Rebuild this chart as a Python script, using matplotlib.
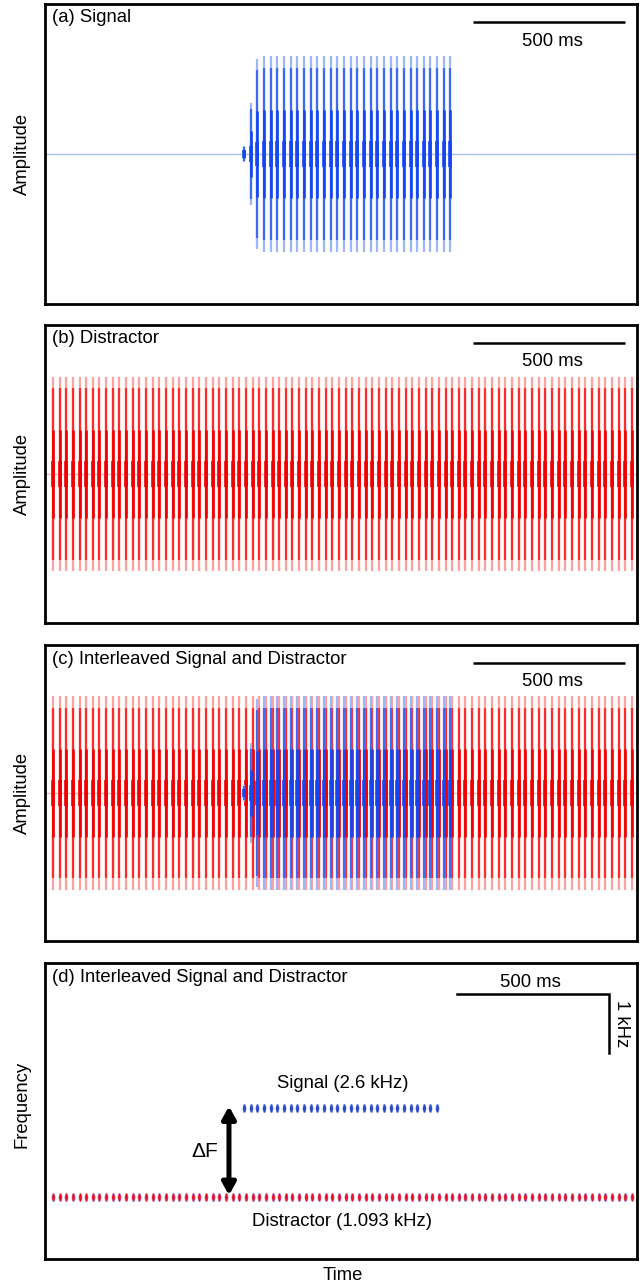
import numpy as np
import matplotlib
matplotlib.use("Agg")
import matplotlib.pyplot as plt

plt.rcParams['font.family'] = ['Liberation Sans', 'DejaVu Sans']

# ---------------- data (times in ms, frequency in kHz) ----------------
distractor_times = [26.0, 47.9, 69.8, 91.8, 113.7, 135.6, 157.5, 179.4, 201.4, 223.3,
                    245.2, 267.1, 289.0, 311.0, 332.9, 354.8, 376.7, 398.6, 420.6, 442.5,
                    464.4, 486.3, 508.2, 530.2, 552.1, 574.0, 595.9, 617.8, 639.8, 661.7,
                    683.6, 705.5, 727.4, 749.4, 771.3, 793.2, 815.1, 837.0, 859.0, 880.9,
                    902.8, 924.7, 946.6, 968.6, 990.5, 1012.4, 1034.3, 1056.2, 1078.2, 1100.1,
                    1122.0, 1143.9, 1165.8, 1187.8, 1209.7, 1231.6, 1253.5, 1275.4, 1297.4, 1319.3,
                    1341.2, 1363.1, 1385.0, 1407.0, 1428.9, 1450.8, 1472.7, 1494.6, 1516.6, 1538.5,
                    1560.4, 1582.3, 1604.2, 1626.2, 1648.1, 1670.0, 1691.9, 1713.8, 1735.8, 1757.7,
                    1779.6, 1801.5, 1823.4, 1845.4, 1867.3, 1889.2, 1911.1, 1933.0]
distractor_amps = [1.0] * len(distractor_times)

signal_times = [656.0, 677.9, 699.8, 721.8, 743.7, 765.6, 787.5, 809.4, 831.4, 853.3,
                875.2, 897.1, 919.0, 941.0, 962.9, 984.8, 1006.7, 1028.6, 1050.6, 1072.5,
                1094.4, 1116.3, 1138.2, 1160.2, 1182.1, 1204.0, 1225.9, 1247.8, 1269.8, 1291.7,
                1313.6, 1335.5]
signal_amps = [0.08, 0.52, 0.97] + [1.0] * 29

signal_dot_times = signal_times[:30]
distractor_freq_khz = 1.093
signal_freq_khz = 2.6

panel_titles = ["(a) Signal", "(b) Distractor",
                "(c) Interleaved Signal and Distractor",
                "(d) Interleaved Signal and Distractor"]
scale_time_ms = 500
scale_freq_khz = 1.0

# ---------------- styling ----------------
BLUE_SHADES = ['#9db6f9', '#3a6af6', '#1446f2']
RED_SHADES = ['#ffa0a0', '#ff2a2a', '#f00000']
BLUE_BASE = '#a9bff8'
RED_BASE = '#ffb8b8'
FS = 13.3

W, H = 642, 1286
fig = plt.figure(figsize=(W / 100, H / 100), dpi=100)

left = 45 / W
width = 592 / W
panels_px = [(4, 304), (325, 623), (645, 941), (963, 1259)]
axes = []
for top, bot in panels_px:
    ax = fig.add_axes([left, (H - bot) / H, width, (bot - top) / H])
    ax.set_xlim(0, 1950)
    ax.set_xticks([])
    ax.set_yticks([])
    for s in ax.spines.values():
        s.set_linewidth(2.0)
        s.set_color('black')
    axes.append(ax)


def draw_pulses(ax, times, amps, shades, z=2):
    t = np.asarray(times)
    a = np.asarray(amps)
    ax.vlines(t, -a, a, color=shades[0], lw=1.6, zorder=z)
    ax.vlines(t, -0.88 * a, 0.88 * a, color=shades[1], lw=1.6, zorder=z)
    ax.vlines(t, -0.45 * a, 0.45 * a, color=shades[2], lw=1.9, zorder=z)
    ax.vlines(t, -0.1 * a - 0.03, 0.1 * a + 0.03, color=shades[2], lw=2.6, zorder=z)


for ax in axes[:3]:
    ax.set_ylim(-1.53, 1.53)

axes[0].axhline(0, color=BLUE_BASE, lw=1.0, zorder=1)
draw_pulses(axes[0], signal_times, signal_amps, BLUE_SHADES)

axes[1].axhline(0, color=RED_BASE, lw=1.0, zorder=1)
draw_pulses(axes[1], distractor_times, distractor_amps, RED_SHADES)

axes[2].axhline(0, color=RED_BASE, lw=1.0, zorder=1)
draw_pulses(axes[2], distractor_times, distractor_amps, RED_SHADES, z=2)
draw_pulses(axes[2], signal_times, signal_amps, BLUE_SHADES, z=3)

for i, ax in enumerate(axes):
    ph = panels_px[i][1] - panels_px[i][0]
    ax.text(0.012, 1 - 14 / ph, panel_titles[i], transform=ax.transAxes,
            fontsize=FS, va='center', ha='left', zorder=5)

for i, ax in enumerate(axes[:3]):
    ph = panels_px[i][1] - panels_px[i][0]
    x0 = 1410
    ax.plot([x0, x0 + scale_time_ms], [1 - 18 / ph] * 2, transform=ax.get_xaxis_transform(),
            color='black', lw=1.8, solid_capstyle='butt', zorder=5)
    ax.text(x0 + scale_time_ms / 2 + 12, 1 - 37 / ph, f"{scale_time_ms} ms",
            transform=ax.get_xaxis_transform(), fontsize=FS, ha='center', va='center', zorder=5)

# frequency panel
axd = axes[3]
axd.set_ylim(0.042, 5.059)

ell = np.linspace(0, 2 * np.pi, 40)
ell_marker = np.column_stack([0.38 * np.cos(ell), np.sin(ell)])

axd.plot(distractor_times, [distractor_freq_khz] * len(distractor_times), ls='none',
         marker=ell_marker, ms=6.0, mfc='#f01020', mec='#9a80e0', mew=0.3, zorder=3)
axd.plot(signal_dot_times, [signal_freq_khz] * len(signal_dot_times), ls='none',
         marker=ell_marker, ms=6.0, mfc='#2a48c8', mec='#6a80e0', mew=0.3, zorder=3)

axd.text(982, 3.02, f"Signal ({signal_freq_khz} kHz)", fontsize=FS, ha='center', va='center')
axd.text(978, 0.67, f"Distractor ({distractor_freq_khz} kHz)", fontsize=FS, ha='center', va='center')

axd.annotate('', xy=(606, signal_freq_khz + 0.03), xytext=(606, distractor_freq_khz + 0.03),
             arrowprops=dict(arrowstyle='<|-|>,head_length=0.36,head_width=0.2',
                             mutation_scale=20, lw=3.6, color='black',
                             shrinkA=0, shrinkB=0), zorder=4)
axd.text(527, 1.86, "ΔF", fontsize=15, ha='center', va='center')

bar_x1 = 1858
bar_y = 4.534
axd.plot([bar_x1 - scale_time_ms, bar_x1, bar_x1], [bar_y, bar_y, bar_y - scale_freq_khz],
         color='black', lw=1.8, solid_joinstyle='miter', zorder=5)
axd.text(bar_x1 - scale_time_ms / 2 - 10, 4.73, f"{scale_time_ms} ms", fontsize=FS,
         ha='center', va='center')
axd.text(bar_x1 + 40, bar_y - scale_freq_khz / 2, "1 kHz", fontsize=FS, rotation=270,
         ha='center', va='center')

# axis labels
for i in range(3):
    top, bot = panels_px[i]
    fig.text(22 / W, 1 - (top + bot) / 2 / H, "Amplitude", rotation=90, fontsize=FS,
             ha='center', va='center')
fig.text(22 / W, 1 - 1104 / H, "Frequency", rotation=90, fontsize=FS, ha='center', va='center')
fig.text(343 / W, 1 - 1276 / H, "Time", fontsize=FS, ha='center', va='center')

fig.savefig("out.png", dpi=100)
